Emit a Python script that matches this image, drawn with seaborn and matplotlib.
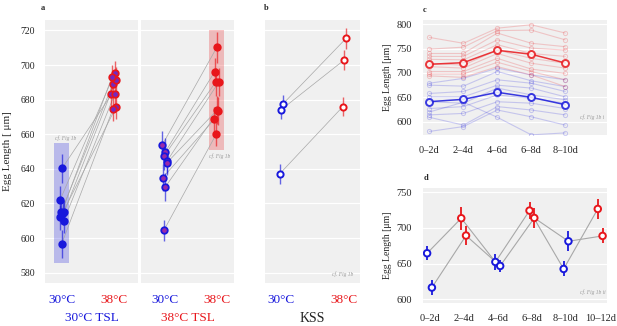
import matplotlib
matplotlib.use("Agg")
import matplotlib.pyplot as plt
import numpy as np
import pandas as pd
import seaborn as sns

# colours
BLUE = "#1818DC"
RED = "#E8161B"
GREY = "#A8A8A8"

# ---- panel a, 30C TSL (reared at 30, tested at 30 / 38)
tsl30_at30 = [640.3, 621.9, 615.0, 615.0, 614.5, 611.9, 609.8, 596.5]
tsl30_at30_err = [8.5, 8, 7, 7, 7, 7, 7, 8]
tsl30_at38 = [683.0, 695.2, 689.3, 691.6, 675.8, 693.1, 683.0, 674.7]
tsl30_at38_err = [7, 7, 7, 7, 7, 7, 7, 7]
tsl30_band = (585.5, 655.0)

# ---- panel a, 38C TSL
tsl38_at30 = [653.8, 649.9, 647.2, 644.4, 643.5, 634.9, 629.6, 604.4]
tsl38_at30_err = [8, 8, 8, 7, 7, 8, 8, 6]
tsl38_at38 = [710.2, 696.2, 690.2, 690.2, 674.1, 668.7, 673.3, 660.1]
tsl38_at38_err = [9, 8, 8, 8, 8, 7, 8, 7]
tsl38_band = (651.0, 720.0)

jit30 = [0.0, -0.04, -0.02, 0.04, 0.01, -0.045, 0.03, -0.01]
jit38 = [-0.05, 0.01, -0.02, 0.04, 0.04, -0.04, 0.01, -0.02]

# ---- panel b, KSS
kss_at30 = [677.4, 674.0, 637.0]
kss_at30_err = [5, 5, 5.5]
kss_at38 = [715.4, 702.9, 676.0]
kss_at38_err = [6, 6, 5.5]
kss_jit30 = [0.03, 0.0, -0.02]
kss_jit38 = [0.03, 0.0, -0.02]

temps = ["30°C", "38°C"]

# ---- panel c
ages_c = ["0–2d", "2–4d", "4–6d", "6–8d", "8–10d"]
red_lines = [
    [773, 761, 792, 799, 782],
    [749, 753, 787, 788, 768],
    [740, 740, 782, 761, 754],
    [734, 734, 768, 751, 747],
    [728, 727, 758, 740, 734],
    [720, 716, 747, 730, 720],
    [713, 710, 740, 720, 710],
    [703, 703, 730, 708, 699],
    [698, 698, 722, 703, 686],
    [694, 691, 713, 696, 672],
]
blue_lines = [
    [679, 689, 710, 696, 686],
    [675, 673, 703, 684, 672],
    [658, 662, 686, 679, 662],
    [651, 651, 675, 669, 651],
    [641, 638, 669, 655, 645],
    [627, 631, 655, 648, 638],
    [614, 617, 641, 638, 627],
    [609, 593, 631, 624, 614],
    [580, 590, 624, 610, 593],
    [620, 640, 609, 573, 577],
]
red_mean = [717.8, 721.2, 746.6, 738.4, 720.5]
blue_mean = [641.1, 645.9, 660.3, 650.0, 634.9]

# ---- panel d
ages_d = ["0–2d", "2–4d", "4–6d", "6–8d", "8–10d", "10–12d"]
d_series1 = [664.5, 713.6, 652.3, 724.3, 642.5, 726.6]
d_series1_err = [10, 16, 11, 12, 10.5, 14]
d_series2 = [616.4, 689.3, 646.7, 714.0, 681.3, 688.8]
d_series2_err = [10.5, 13, 9, 14.5, 14, 10.5]

sns.set_style("darkgrid", {"axes.facecolor": "#F0F0F0", "grid.color": "white"})
plt.rcParams["font.family"] = ["Liberation Serif", "DejaVu Serif"]
plt.rcParams["grid.linewidth"] = 0.9

fig = plt.figure(figsize=(6.17, 3.26), dpi=100)
ax1 = fig.add_axes([0.0729, 0.1319, 0.1507, 0.8067])
ax2 = fig.add_axes([0.2285, 0.1319, 0.1507, 0.8067])
ax3 = fig.add_axes([0.4295, 0.1319, 0.154, 0.8067])
axc = fig.add_axes([0.6856, 0.5859, 0.2982, 0.3528])
axd = fig.add_axes([0.6856, 0.0706, 0.2982, 0.3528])


def paired(ax, x0, y0, e0, x1, y1, e1, c0, c1, fc0, fc1, size=22, ew=1.0):
    n = len(y0)
    df = pd.DataFrame({"x": list(x0) + list(x1), "y": list(y0) + list(y1),
                       "pair": list(range(n)) * 2})
    sns.lineplot(data=df, x="x", y="y", units="pair", estimator=None, sort=False,
                 color=GREY, linewidth=0.5, ax=ax, zorder=2)
    ax.errorbar(x0, y0, yerr=e0, fmt="none", ecolor=c0, alpha=0.65, elinewidth=1.0, zorder=3)
    ax.errorbar(x1, y1, yerr=e1, fmt="none", ecolor=c1, alpha=0.65, elinewidth=1.0, zorder=3)
    sns.scatterplot(x=x0, y=y0, color=fc0, edgecolor=c0, linewidth=ew, s=size, ax=ax, zorder=4)
    sns.scatterplot(x=x1, y=y1, color=fc1, edgecolor=c1, linewidth=ew, s=size, ax=ax, zorder=4)


def style_cat(ax, xlabel, xlabel_color, xlim, show_y):
    ax.set_xlim(*xlim)
    ax.set_ylim(574, 726)
    ax.set_yticks(range(580, 721, 20))
    ax.set_xticks([0, 1])
    ax.set_xticklabels(temps, fontsize=9.5)
    for lab, c in zip(ax.get_xticklabels(), [BLUE, RED]):
        lab.set_color(c)
    ax.grid(False, axis="x")
    ax.tick_params(axis="x", length=3, width=0.8, color="k", pad=5)
    if show_y:
        ax.tick_params(axis="y", length=3, width=0.8, color="k", labelsize=7, pad=4)
    else:
        ax.tick_params(axis="y", length=0, labelleft=False)
    ax.set_xlabel(xlabel, fontsize=9.5, color=xlabel_color, labelpad=4)
    ax.set_ylabel("")
    for s in ax.spines.values():
        s.set_visible(False)


# panel a - left
x0 = [0 + j for j in jit30]
x1 = [1 + j for j in jit38]
ax1.fill_between([-0.15, 0.14], tsl30_band[0], tsl30_band[1], color=BLUE, alpha=0.25,
                 linewidth=0, zorder=1)
paired(ax1, x0, tsl30_at30, tsl30_at30_err, x1, tsl30_at38, tsl30_at38_err,
       BLUE, RED, BLUE, "#7428C0", ew=1.3)
ax1.text(-0.14, 656.5, "cf. Fig 1b", fontsize=4, style="italic", color="#999999")
style_cat(ax1, "30°C TSL", BLUE, (-0.33, 1.46), True)
ax1.set_ylabel("Egg Length [ μm]", fontsize=8, labelpad=6)

# panel a - right
x0 = [0 + j for j in jit38]
x1 = [1 + j for j in jit30]
ax2.fill_between([0.85, 1.14], tsl38_band[0], tsl38_band[1], color=RED, alpha=0.25,
                 linewidth=0, zorder=1)
paired(ax2, x0, tsl38_at30, tsl38_at30_err, x1, tsl38_at38, tsl38_at38_err,
       BLUE, RED, "#9A2AA8", RED, ew=1.3)
ax2.text(0.85, 646, "cf. Fig 1b", fontsize=4, style="italic", color="#999999")
style_cat(ax2, "38°C TSL", RED, (-0.46, 1.33), False)

# panel b
x0 = [0 + j for j in kss_jit30]
x1 = [1 + j for j in kss_jit38]
paired(ax3, x0, kss_at30, kss_at30_err, x1, kss_at38, kss_at38_err,
       BLUE, RED, "white", "white", size=20, ew=1.4)
ax3.text(1.15, 578, "cf. Fig 1b", fontsize=4, style="italic", color="#999999", ha="right")
style_cat(ax3, "KSS", "#222222", (-0.25, 1.25), False)
ax3.xaxis.label.set_fontsize(10)

# panel c
rows = []
for grp, lines in (("red", red_lines), ("blue", blue_lines)):
    for i, vals in enumerate(lines):
        for k, v in enumerate(vals):
            rows.append({"grp": grp, "line": f"{grp}{i}", "x": k, "y": v})
dfc = pd.DataFrame(rows)
for grp, col in (("blue", BLUE), ("red", RED)):
    sns.lineplot(data=dfc[dfc["grp"] == grp], x="x", y="y", units="line", estimator=None,
                 color=col, alpha=0.2, linewidth=0.8, marker="o", markersize=3,
                 markerfacecolor="none", markeredgecolor=col, ax=axc)
for means, col in ((blue_mean, BLUE), (red_mean, RED)):
    sns.lineplot(x=range(len(means)), y=means, color=col, linewidth=1.1, marker="o",
                 markersize=5, markerfacecolor="white", markeredgecolor=col,
                 markeredgewidth=1.4, alpha=0.85, ax=axc)
axc.text(5.15, 606, "cf. Fig 1b i", fontsize=4, style="italic", color="#999999", ha="right")
axc.set_xlim(-0.19, 5.23)
axc.set_ylim(572.7, 808.8)
axc.set_yticks([600, 650, 700, 750, 800])
axc.set_xticks(range(len(ages_c)))
axc.set_xticklabels(ages_c)

# panel d
for k, (series, err, off) in enumerate(((d_series1, d_series1_err, -0.07),
                                         (d_series2, d_series2_err, 0.07))):
    xs = [i + off for i in range(len(series))]
    sns.lineplot(x=xs, y=series, color=GREY, linewidth=0.8, sort=False, ax=axd, zorder=2)
    cols = [BLUE if i % 2 == 0 else RED for i in range(len(series))]
    for xi, yi, ei, ci in zip(xs, series, err, cols):
        axd.errorbar(xi, yi, yerr=ei, fmt="none", ecolor=ci, elinewidth=1.3, zorder=3)
    sns.scatterplot(x=xs, y=series, hue=cols, palette={BLUE: BLUE, RED: RED}, legend=False,
                    facecolor="white", s=22, linewidth=1.4, ax=axd, zorder=4)
    for coll in axd.collections[-1:]:
        coll.set_edgecolors(cols)
        coll.set_facecolor("white")
axd.text(5.15, 608, "cf. Fig 1b ii", fontsize=4, style="italic", color="#999999", ha="right")
axd.set_xlim(-0.19, 5.2)
axd.set_ylim(594.8, 756)
axd.set_yticks([600, 650, 700, 750])
axd.set_xticks(range(len(ages_d)))
axd.set_xticklabels(ages_d)

for ax in (axc, axd):
    ax.grid(False, axis="x")
    ax.tick_params(length=3, width=0.8, color="k", labelsize=7.5, pad=5)
    ax.set_xlabel("")
    ax.set_ylabel("Egg Length [μm]", fontsize=7, labelpad=3)
    for s in ax.spines.values():
        s.set_visible(False)

# panel letters
for lab, x, y in (("a", 0.066, 0.975), ("b", 0.428, 0.975), ("c", 0.685, 0.968), ("d", 0.687, 0.455)):
    fig.text(x, y, lab, fontsize=6, fontweight="bold", ha="left", va="center")

fig.savefig("out.png", dpi=100)
